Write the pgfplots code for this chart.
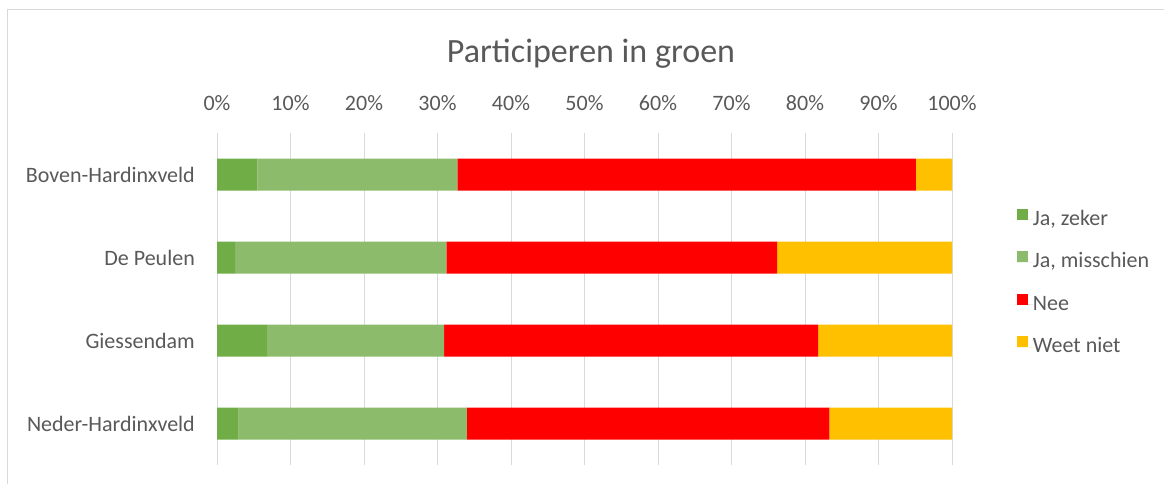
\documentclass[border=0pt]{standalone}
\usepackage{pgfplots}
\pgfplotsset{compat=1.18}
\usepackage{fontspec}
\setmainfont{Carlito}
\definecolor{txt}{HTML}{595959}
\definecolor{gridc}{HTML}{D9D9D9}
\definecolor{dgreen}{HTML}{70AD47}
\definecolor{lgreen}{RGB}{141,187,108}
\definecolor{nred}{HTML}{FF0000}
\definecolor{wyel}{HTML}{FFC000}
\begin{document}
\begin{tikzpicture}[x=1pt,y=1pt]
\path[use as bounding box] (0,0) rectangle (1164,484);
\draw[color=gridc, line width=1pt] (7,0) -- (7,474) -- (1164,474);
\begin{axis}[
  at={(217pt,19pt)}, anchor=south west,
  scale only axis, width=735pt, height=332pt,
  xbar stacked, bar width=32pt,
  xmin=0, xmax=100, ymin=-0.5, ymax=3.5, y dir=reverse,
  xtick={0,10,...,100},
  xticklabels={0\%,10\%,20\%,30\%,40\%,50\%,60\%,70\%,80\%,90\%,100\%},
  xticklabel pos=upper,
  xmajorgrids, major grid style={color=gridc, line width=1pt},
  ytick={0,1,2,3},
  yticklabels={Boven-Hardinxveld,De Peulen,Giessendam,Neder-Hardinxveld},
  axis line style={draw=none}, tick style={draw=none}, major tick length=0pt,
  every tick label/.append style={font=\fontsize{22}{26}\selectfont, text=txt},
  xticklabel style={anchor=base, inner sep=0pt, yshift=22.3pt},
  yticklabel style={anchor=east, inner sep=0pt, xshift=-22pt},
  legend style={at={(axis description cs:1.088,0.547)}, anchor=west, draw=none, fill=none,
    inner sep=0pt, row sep=21pt,
    font=\fontsize{22}{26}\selectfont, text=txt,
    nodes={inner sep=0pt, text height=16pt, text depth=5pt}},
  legend cell align=left,
  legend image code/.code={\fill[#1] (0pt,0pt) rectangle (11pt,11pt); \path (0pt,0pt) -- (16pt,0pt);},
]
\addplot[fill=dgreen, draw=none] coordinates {(5.5,0) (2.45,1) (6.8,2) (2.95,3)};
\addplot[fill=lgreen, draw=none] coordinates {(27.2,0) (28.75,1) (24.1,2) (31.05,3)};
\addplot[fill=nred, draw=none] coordinates {(62.4,0) (45.0,1) (50.9,2) (49.3,3)};
\addplot[fill=wyel, draw=none] coordinates {(4.9,0) (23.8,1) (18.2,2) (16.7,3)};
\legend{{Ja, zeker},{Ja, misschien},Nee,Weet niet}
\end{axis}
\node[anchor=base, font=\fontsize{34}{40}\selectfont, text=txt] at (591,421.3) {Participeren in groen};
\end{tikzpicture}
\end{document}
